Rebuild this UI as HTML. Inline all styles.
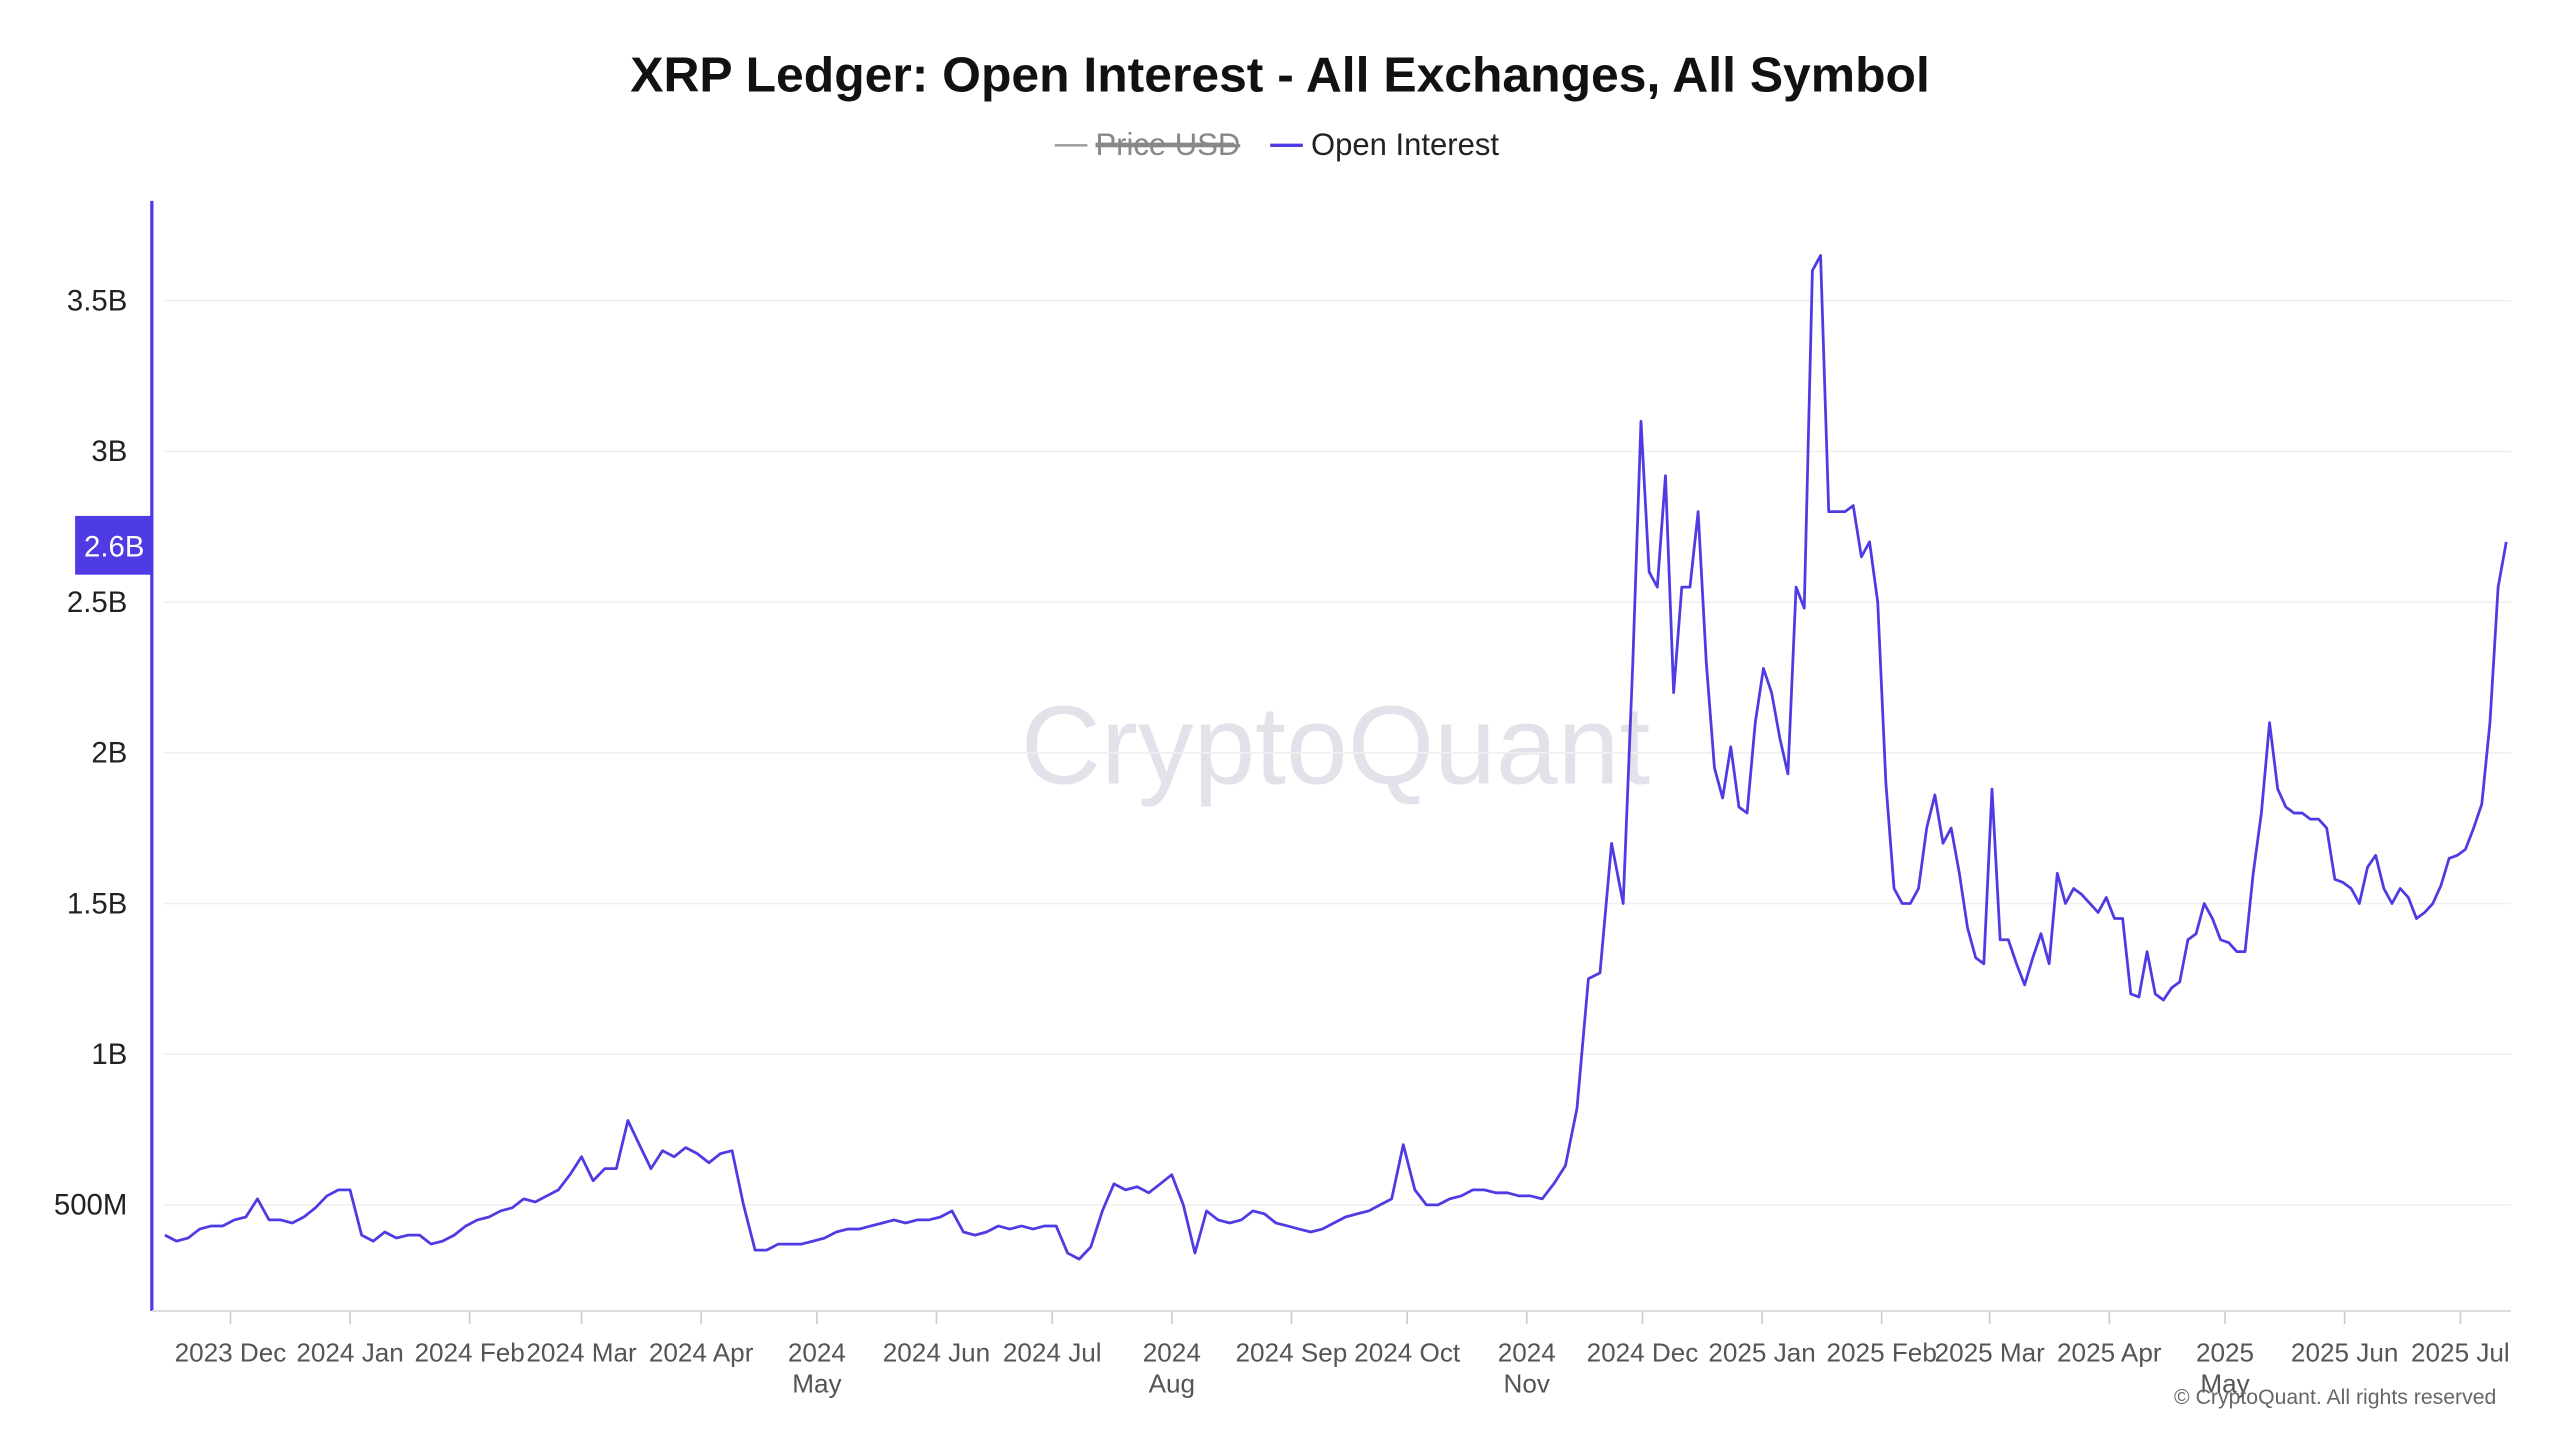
<!DOCTYPE html>
<html><head><meta charset="utf-8"><style>
html,body{margin:0;padding:0;background:#fff;}
svg{display:block;}
text{font-family:"Liberation Sans",sans-serif;}
</style></head><body>
<svg id="chart" width="2560" height="1440" viewBox="0 0 1568 882" preserveAspectRatio="none" xmlns="http://www.w3.org/2000/svg">
<text x="784" y="56" text-anchor="middle" font-size="30" font-weight="bold" fill="#111" textLength="796" lengthAdjust="spacingAndGlyphs">XRP Ledger: Open Interest - All Exchanges, All Symbol</text>
<g><line x1="646" y1="89" x2="666" y2="89" stroke="#999" stroke-width="1.5"/><text x="671" y="95" font-size="19" fill="#888" text-decoration="line-through">Price USD</text><line x1="671" y1="88" x2="756" y2="88" stroke="#888" stroke-width="1.3"/></g>
<g><line x1="778" y1="89" x2="798" y2="89" stroke="#4f3be3" stroke-width="2"/><text x="803" y="95" font-size="19" fill="#222">Open Interest</text></g>
<text x="818" y="480" text-anchor="middle" font-size="68" fill="#e3e1e9">CryptoQuant</text>
<g id="grid"></g><g id="yticks"></g><g id="xticks"></g>
<line x1="93" y1="123" x2="93" y2="803" stroke="#4f3be3" stroke-width="2"/>
<line x1="93" y1="803" x2="1538" y2="803" stroke="#ddd" stroke-width="1.2"/>
<path id="series" fill="none" stroke="#4f3be3" stroke-width="1.7" stroke-linejoin="round"/>
<g><rect x="46" y="316" width="47" height="36" fill="#4f3be3"/><text x="70" y="341" text-anchor="middle" font-size="18" fill="#fff">2.6B</text></g>
<text x="1529" y="860" text-anchor="end" font-size="13" fill="#666">© CryptoQuant. All rights reserved</text>
</svg>
<script>
const yTickValues=[0.5,1,1.5,2,2.5,3,3.5];
const yTickLabels=["500M","1B","1.5B","2B","2.5B","3B","3.5B"];
const monthDays=[17,48,79,108,139,169,200,230,261,292,322,353,383,414,445,473,504,534,565,595];
const monthLabels=[["2023 Dec"],["2024 Jan"],["2024 Feb"],["2024 Mar"],["2024 Apr"],["2024","May"],["2024 Jun"],["2024 Jul"],["2024","Aug"],["2024 Sep"],["2024 Oct"],["2024","Nov"],["2024 Dec"],["2025 Jan"],["2025 Feb"],["2025 Mar"],["2025 Apr"],["2025","May"],["2025 Jun"],["2025 Jul"]];
const segAStart=0, segAStep=3;
const segAValues=[0.40,0.38,0.39,0.42,0.43,0.43,0.45,0.46,0.52,0.45,0.45,0.44,0.46,0.49,0.53,0.55,0.55,0.40,0.38,0.41,0.39,0.40,0.40,0.37,0.38,0.40,0.43,0.45,0.46,0.48,0.49,0.52,0.51,0.53,0.55,0.60,0.66,0.58,0.62,0.62,0.78,0.70,0.62,0.68,0.66,0.69,0.67,0.64,0.67,0.68,0.50,0.35,0.35,0.37,0.37,0.37,0.38,0.39,0.41,0.42,0.42,0.43,0.44,0.45,0.44,0.45,0.45,0.46,0.48,0.41,0.40,0.41,0.43,0.42,0.43,0.42,0.43,0.43,0.34,0.32,0.36,0.48,0.57,0.55,0.56,0.54,0.57,0.60,0.50,0.34,0.48,0.45,0.44,0.45,0.48,0.47,0.44,0.43,0.42,0.41,0.42,0.44,0.46,0.47,0.48,0.50,0.52,0.70,0.55,0.50,0.50,0.52,0.53,0.55,0.55,0.54,0.54,0.53,0.53,0.52,0.57,0.63,0.82,1.25,1.27,1.70,1.50];
const segBStart=380.5, segBStep=2.116;
const segBValues=[2.3,3.1,2.6,2.55,2.92,2.2,2.55,2.55,2.8,2.3,1.95,1.85,2.02,1.82,1.8,2.1,2.28,2.2,2.05,1.93,2.55,2.48,3.6,3.65,2.8,2.8,2.8,2.82,2.65,2.7,2.5,1.9,1.55,1.5,1.5,1.55,1.75,1.86,1.7,1.75,1.6,1.42,1.32,1.3,1.88,1.38,1.38,1.3,1.23,1.32,1.4,1.3,1.6,1.5,1.55,1.53,1.5,1.47,1.52,1.45,1.45,1.2,1.19,1.34,1.2,1.18,1.22,1.24,1.38,1.4,1.5,1.45,1.38,1.37,1.34,1.34,1.6,1.8,2.1,1.88,1.82,1.8,1.8,1.78,1.78,1.75,1.58,1.57,1.55,1.5,1.62,1.66,1.55,1.5,1.55,1.52,1.45,1.47,1.5,1.56,1.65,1.66,1.68,1.75,1.83,2.1,2.55,2.7];

const NS="http://www.w3.org/2000/svg";
function xOf(day){return 101+day*2.363;}
function yOf(v){return 830.3-v*184.6;}
const grid=document.getElementById('grid'),yt=document.getElementById('yticks'),xt=document.getElementById('xticks');
yTickValues.forEach((v,i)=>{
  const l=document.createElementNS(NS,'line');
  
  
  l.setAttribute('x1',100);l.setAttribute('x2',1538);l.setAttribute('y1',yOf(v));l.setAttribute('y2',yOf(v));
  l.setAttribute('stroke','#f0f0f0');l.setAttribute('stroke-width','1');grid.appendChild(l);
  const t=document.createElementNS(NS,'text');
  
  
  t.setAttribute('x',78);t.setAttribute('y',yOf(v)+6);t.setAttribute('text-anchor','end');
  t.setAttribute('font-size','18');t.setAttribute('fill','#222');t.textContent=yTickLabels[i];yt.appendChild(t);
});
monthDays.forEach((d,i)=>{
  const x=xOf(d);
  const l=document.createElementNS(NS,'line');
  
  
  l.setAttribute('x1',x);l.setAttribute('x2',x);l.setAttribute('y1',803);l.setAttribute('y2',811);
  l.setAttribute('stroke','#ccc');xt.appendChild(l);
  monthLabels[i].forEach((s,j)=>{
    const t=document.createElementNS(NS,'text');
    
    
    t.setAttribute('x',x);t.setAttribute('y',834+j*19);t.setAttribute('text-anchor','middle');
    t.setAttribute('font-size','16');t.setAttribute('fill','#555');t.textContent=s;xt.appendChild(t);
  });
});
let pts=[];
segAValues.forEach((v,i)=>pts.push([xOf(segAStart+i*segAStep),yOf(v)]));
segBValues.forEach((v,i)=>pts.push([xOf(segBStart+i*segBStep),yOf(v)]));
document.getElementById('series').setAttribute('d','M'+pts.map(p=>p[0].toFixed(1)+','+p[1].toFixed(1)).join('L'));
</script>
</body></html>
